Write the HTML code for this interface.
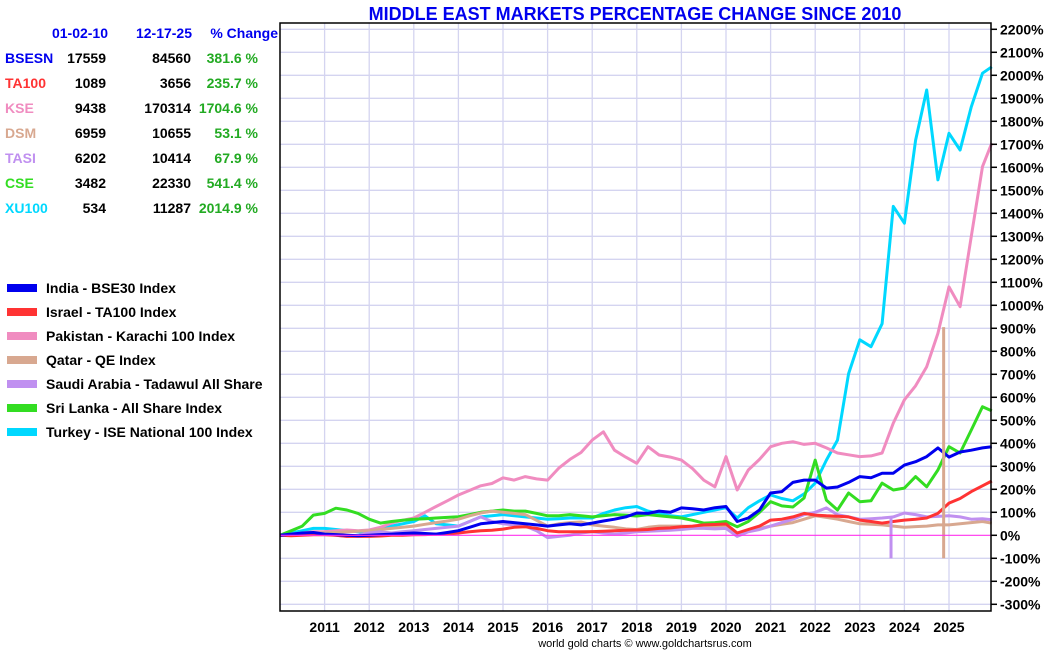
<!DOCTYPE html>
<html><head><meta charset="utf-8">
<style>
body{margin:0;background:#fff;width:1050px;height:650px;overflow:hidden;font-family:"Liberation Sans",Arial,sans-serif}
svg{display:block}
text{font-family:"Liberation Sans",Arial,sans-serif;font-weight:bold}
</style></head><body>
<svg id="chart" width="1050" height="650" viewBox="0 0 1050 650" xmlns="http://www.w3.org/2000/svg">
<text x="635" y="20" text-anchor="middle" font-size="18" fill="#0000ee">MIDDLE EAST MARKETS PERCENTAGE CHANGE SINCE 2010</text>
<g id="grid"></g>
<g id="series"></g>
<g id="axes"></g>
<g id="table"></g>
<g id="legend"></g>
<text x="645" y="647" text-anchor="middle" font-size="11" style="font-weight:normal" fill="#000">world gold charts © www.goldchartsrus.com</text>
</svg>
<script>
const yTicks=[2200,2100,2000,1900,1800,1700,1600,1500,1400,1300,1200,1100,1000,900,800,700,600,500,400,300,200,100,0,-100,-200,-300];
const yearLabels=[2011,2012,2013,2014,2015,2016,2017,2018,2019,2020,2021,2022,2023,2024,2025];
const bsesn=[0,5,10,12, 5,3,0,-2, 0,3,5,8, 10,8,5,12, 20,35,50,55, 60,55,50,45, 40,45,50,45, 53,62,70,80, 97,95,105,100, 119,115,110,120, 125,60,75,110, 184,190,230,240, 240,205,210,230, 255,250,270,270, 305,320,342,380, 340,362,370,380, 385];
const ta100=[0,-2,0,2, 2,0,-5,-5, -5,-3,0,0, 2,3,5,5, 10,15,20,22, 27,35,37,30, 20,15,15,15, 16,18,20,22, 23,25,30,32, 37,40,45,47, 49,10,25,40, 66,70,80,95, 88,85,83,80, 66,60,53,60, 66,70,75,95, 140,160,190,215, 236];
const kse=[0,5,10,15, 16,20,23,20, 23,35,53,65, 75,100,125,150, 175,195,215,225, 250,240,255,245, 240,292,330,360, 414,450,370,340, 313,385,349,340, 327,290,240,211, 342,197,284,330, 385,400,407,395, 400,380,358,350, 342,345,358,488, 589,650,733,878, 1080,994,1300,1603, 1705];
const dsm=[0,3,8,10, 10,12,15,18, 20,25,30,35, 40,48,55,62, 70,85,97,105, 100,95,90,65, 40,50,55,58, 45,40,35,28, 25,35,40,40, 40,38,35,38, 40,5,20,30, 40,48,55,70, 85,78,70,60, 50,48,45,40, 35,38,40,45, 45,50,55,60, 53];
const tasi=[0,2,5,8, 5,0,-5,0, 10,15,10,15, 20,25,30,35, 40,60,80,60, 50,45,40,20, -10,-5,0,10, 15,10,5,10, 15,18,20,22, 25,30,30,28, 30,-5,15,25, 40,55,70,90, 100,119,90,80, 70,72,75,80, 97,90,80,82, 85,80,70,72, 68];
const cse=[0,20,40,88, 95,118,110,95, 70,53,60,65, 70,72,75,78, 81,90,100,105, 110,105,105,95, 85,85,90,85, 80,85,90,88, 84,90,85,80, 75,65,53,55, 60,37,60,100, 146,128,123,162, 327,153,110,184, 146,150,227,197, 205,255,211,284, 385,358,458,559, 541];
const xu100=[0,10,20,30, 30,25,20,15, 10,25,40,50, 60,85,50,45, 40,60,80,85, 90,85,80,75, 70,72,75,75, 75,95,110,120, 125,105,95,85, 80,90,100,110, 120,75,120,150, 175,160,150,180, 227,327,414,703, 850,820,920,1430, 1357,1718,1936,1545, 1748,1675,1863,2009, 2037];
const spikeDates=[2023.7,2024.88];
const spikeLows=[-100,-100];
const spikeHighs=[80,905];
const tickers=["BSESN","TA100","KSE","DSM","TASI","CSE","XU100"];
const startVals=["17559","1089","9438","6959","6202","3482","534"];
const endVals=["84560","3656","170314","10655","10414","22330","11287"];
const pctVals=["381.6 %","235.7 %","1704.6 %","53.1 %","67.9 %","541.4 %","2014.9 %"];
const legendNames=["India - BSE30 Index","Israel - TA100 Index","Pakistan - Karachi 100 Index","Qatar - QE Index","Saudi Arabia - Tadawul All Share","Sri Lanka - All Share Index","Turkey - ISE National 100 Index"];
const colors=["#0000ee","#ff3333","#f08cc0","#d8a890","#c090f0","#33dd22","#00d8ff"];

const NS="http://www.w3.org/2000/svg";
const L=280,R=991,T=23,B=611;
const X=t=>L+(t-2010)*44.6;
const Y=v=>535.3-v*0.23;
function mk(tag,attrs,parent){const e=document.createElementNS(NS,tag);for(const k in attrs)e.setAttribute(k,attrs[k]);parent.appendChild(e);return e;}
const grid=document.getElementById('grid'),axes=document.getElementById('axes'),ser=document.getElementById('series');
yTicks.forEach(v=>{
  const g=mk('line',{x1:L,x2:R,y1:Y(v),y2:Y(v),stroke:v===0?'#ff33ee':'#d4d4f0','stroke-width':v===0?1.2:1.3},v===0?axes:grid);
  
  
  const tk=mk('line',{x1:R,x2:R+6,y1:Y(v),y2:Y(v),stroke:'#000','stroke-width':1.5},axes);
  
  
  const lb=mk('text',{x:R+9,y:Y(v)+5,'font-size':14,fill:'#000'},axes);
  lb.textContent=v+'%';
  
  
});
yearLabels.forEach(yr=>{
  const g=mk('line',{x1:X(yr),x2:X(yr),y1:T,y2:B,stroke:'#d4d4f0','stroke-width':1.3},grid);
  
  
  const lb=mk('text',{x:X(yr),y:632,'font-size':14,'text-anchor':'middle',fill:'#000'},axes);
  lb.textContent=yr;
  
  
});
const frame=mk('rect',{x:L,y:T,width:R-L,height:B-T,fill:'none',stroke:'#000','stroke-width':1.5},axes);



const seriesData=[bsesn,ta100,kse,dsm,tasi,cse,xu100];
const names=['line-bsesn','line-ta100','line-kse','line-dsm','line-tasi','line-cse','line-xu100'];
const drawOrder=[6,2,5,3,4,1,0];
function dateAt(i,n){return i<n-1?2010+i*0.25:2025.96;}
drawOrder.forEach(si=>{
  const d=seriesData[si];
  const pts=d.map((v,i)=>X(dateAt(i,d.length)).toFixed(1)+','+Y(v).toFixed(1)).join(' ');
  const p=mk('polyline',{points:pts,fill:'none',stroke:colors[si],'stroke-width':3,'stroke-linejoin':'round'},ser);
  
  
});
const spikeColors=[colors[4],colors[3]];
spikeDates.forEach((t,i)=>{
  const s=mk('line',{x1:X(t),x2:X(t),y1:Y(spikeLows[i]),y2:Y(spikeHighs[i]),stroke:spikeColors[i],'stroke-width':3},ser);
  
  
});

const tbl=document.getElementById('table');
[["01-02-10",108],["12-17-25",192],["% Change",278]].forEach(h=>{
  const e=mk('text',{x:h[1],y:38,'font-size':14,'text-anchor':'end',fill:'#0000ee'},tbl);
  e.textContent=h[0];
  
  
});
tickers.forEach((tk,i)=>{
  const y=63+i*25;
  const a=mk('text',{x:5,y:y,'font-size':14,fill:colors[i]},tbl);a.textContent=tk;
  
  
  const b=mk('text',{x:106,y:y,'font-size':14,'text-anchor':'end',fill:'#000'},tbl);b.textContent=startVals[i];
  
  
  const c=mk('text',{x:191,y:y,'font-size':14,'text-anchor':'end',fill:'#000'},tbl);c.textContent=endVals[i];
  
  
  const d=mk('text',{x:258,y:y,'font-size':14,'text-anchor':'end',fill:'#22aa22'},tbl);d.textContent=pctVals[i];
  
  
});
const lg=document.getElementById('legend');
legendNames.forEach((n,i)=>{
  const y=288+i*24;
  const s=mk('rect',{x:7,y:y-4,width:30,height:8,fill:colors[i]},lg);
  
  
  const t=mk('text',{x:46,y:y+5,'font-size':14,fill:'#000'},lg);t.textContent=n;
  
  
});
</script>
</body></html>
